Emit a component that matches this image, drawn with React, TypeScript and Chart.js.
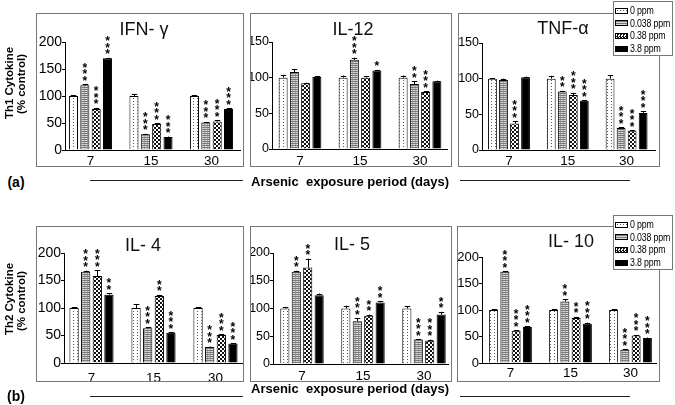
import React, { useEffect, useRef } from 'react';
import { Chart, registerables } from 'chart.js';
Chart.register(...registerables);

// ---------- data ----------
const days = ['7', '15', '30'];
const doses = ['0 ppm', '0.038 ppm', '0.38 ppm', '3.8 ppm'];
const th1Title = ['Th1 Cytokine', '(% control)'];
const th2Title = ['Th2 Cytokine', '(% control)'];
const xTitle = 'Arsenic  exposure period (days)';

// rows = doses, columns = days
const ifnMean = [[100, 100, 100], [120, 29, 51], [76, 48, 53], [170, 24, 76]];
const ifnErr = [[2, 4, 2], [2, 1, 1], [2, 2, 2], [1, 1, 1]];
const ifnStars = [[0, 0, 0], [3, 3, 3], [3, 3, 3], [3, 3, 3]];

const il12Mean = [[100, 100, 100], [108, 125, 91], [92, 100, 80], [101, 110, 95]];
const il12Err = [[4, 3, 3], [4, 3, 4], [1, 2, 1], [1, 1, 1]];
const il12Stars = [[0, 0, 0], [0, 3, 2], [0, 0, 3], [0, 1, 0]];

const tnfMean = [[100, 100, 100], [98, 82, 31], [37, 77, 27], [102, 69, 52]];
const tnfErr = [[1, 4, 5], [2, 1, 1], [3, 3, 1], [1, 1, 2]];
const tnfStars = [[0, 0, 0], [0, 2, 3], [3, 3, 3], [0, 3, 3]];

const il4Mean = [[100, 100, 100], [166, 63, 29], [158, 122, 51], [124, 55, 35]];
const il4Err = [[1, 7, 1], [2, 2, 1], [11, 2, 1], [3, 1, 1]];
const il4Stars = [[0, 0, 0], [3, 3, 3], [3, 2, 3], [2, 3, 3]];

const il5Mean = [[100, 100, 100], [166, 77, 44], [174, 87, 42], [124, 111, 89]];
const il5Err = [[2, 5, 4], [2, 5, 1], [16, 2, 2], [3, 2, 5]];
const il5Stars = [[0, 0, 0], [2, 3, 3], [2, 2, 3], [0, 2, 2]];

const il10Mean = [[100, 100, 100], [172, 116, 25], [61, 85, 52], [68, 74, 47]];
const il10Err = [[1, 1, 1], [1, 4, 1], [1, 2, 1], [1, 2, 1]];
const il10Stars = [[0, 0, 0], [3, 2, 3], [3, 2, 3], [3, 3, 3]];

// ---------- styles / layout ----------
const FONT = "'Liberation Sans', Arial, sans-serif";

function makeTile(w: number, h: number, draw: (c: CanvasRenderingContext2D) => void) {
  const cv = document.createElement('canvas');
  cv.width = w; cv.height = h;
  const c = cv.getContext('2d')!;
  draw(c);
  return c.createPattern(cv, 'repeat');
}

function makeFills() {
  const dots = makeTile(4, 3, (c) => {
    c.fillStyle = '#fff'; c.fillRect(0, 0, 4, 3);
    c.fillStyle = '#555'; c.fillRect(1, 1, 1, 1);
  });
  const stripes = makeTile(3, 2, (c) => {
    c.fillStyle = '#d8d8d8'; c.fillRect(0, 0, 3, 2);
    c.fillStyle = '#7a7a7a'; c.fillRect(0, 0, 3, 1);
    c.fillStyle = '#aaa'; c.fillRect(0, 1, 1, 1);
  });
  const checker = makeTile(4, 4, (c) => {
    c.fillStyle = '#fff'; c.fillRect(0, 0, 4, 4);
    c.fillStyle = '#111'; c.fillRect(0, 0, 2, 2); c.fillRect(2, 2, 2, 2);
  });
  return [dots, stripes, checker, '#000'];
}

const errStarPlugin = {
  id: 'errStars',
  afterDatasetsDraw(chart: any) {
    const ctx = chart.ctx;
    const ys = chart.scales.y;
    ctx.save();
    ctx.font = `bold 12px ${FONT}`;
    const m = ctx.measureText('*');
    const off = (m.actualBoundingBoxAscent - m.actualBoundingBoxDescent) / 2;
    chart.data.datasets.forEach((ds: any, i: number) => {
      const meta = chart.getDatasetMeta(i);
      meta.data.forEach((bar: any, j: number) => {
        const v = ds.data[j].y;
        const e = ds.errs[j] || 0;
        const top = ys.getPixelForValue(v + e);
        const yb = bar.y;
        ctx.strokeStyle = '#000';
        ctx.lineWidth = 1;
        if (e > 0) {
          const x = Math.round(bar.x) + 0.5;
          ctx.beginPath();
          ctx.moveTo(x, yb);
          ctx.lineTo(x, top);
          const hw = bar.width * 0.3;
          ctx.moveTo(x - hw, Math.round(top) + 0.5);
          ctx.lineTo(x + hw, Math.round(top) + 0.5);
          ctx.stroke();
        }
        const n = ds.stars[j] || 0;
        ctx.fillStyle = '#000';
        ctx.textAlign = 'center';
        ctx.textBaseline = 'alphabetic';
        for (let k = 0; k < n; k++) {
          const yc = top - 6 - k * 6.5;
          ctx.fillText('*', bar.x, yc + off);
        }
      });
    });
    ctx.restore();
  },
};

type Lay = { bx: number; by: number; bw: number; bh: number; L: number; T: number; B: number; R: number; c0: number; s: number; pad: number; tx: number; ty: number; yf: number };

function Panel(props: { title: string; mean: number[][]; err: number[][]; stars: number[][]; yMax: number; lay: Lay }) {
  const ref = useRef<HTMLCanvasElement>(null);
  const { title, mean, err, stars, yMax, lay } = props;
  useEffect(() => {
    const fills = makeFills();
    const xmin = (lay.L - lay.c0) / lay.s;
    const xmax = (lay.R - lay.c0) / lay.s;
    const chart = new Chart(ref.current!, {
      type: 'bar',
      data: {
        datasets: mean.map((row, i) => ({
          label: doses[i],
          data: row.map((v, j) => ({ x: j, y: v })),
          backgroundColor: fills[i] as any,
          borderColor: '#000',
          borderWidth: 1,
          categoryPercentage: 0.75,
          barPercentage: 0.8,
          errs: err[i],
          stars: stars[i],
        })) as any,
      },
      options: {
        responsive: false,
        animation: false,
        events: [],
        layout: { padding: { left: 0, top: lay.T - lay.by, right: lay.bx + lay.bw - lay.R, bottom: 0 } },
        plugins: { legend: { display: false }, tooltip: { enabled: false } },
        scales: {
          x: {
            type: 'linear',
            offset: false,
            bounds: 'data',
            min: xmin,
            max: xmax,
            grid: { display: false, drawTicks: false, offset: false },
            border: { display: true, color: '#000', width: 1 },
            ticks: {
              padding: lay.pad,
              color: '#000',
              font: { family: FONT, size: 13.5 },
              callback: (v: any) => days[v] ?? '',
            },
            afterBuildTicks: (sc: any) => { sc.ticks = [0, 1, 2].map((v) => ({ value: v })); },
            afterFit: (sc: any) => { sc.height = lay.by + lay.bh - lay.B; },
          },
          y: {
            min: 0,
            max: yMax,
            ticks: { stepSize: 50, padding: 0, color: '#000', font: { family: FONT, size: lay.yf } },
            grid: { drawOnChartArea: false, drawTicks: true, tickLength: 3, color: '#000' },
            border: { display: true, color: '#000', width: 1 },
            afterFit: (sc: any) => { sc.width = lay.L - lay.bx; },
          },
        },
      } as any,
      plugins: [errStarPlugin],
    });
    return () => chart.destroy();
  }, []);
  return (
    <>
      <canvas ref={ref} width={lay.bw} height={lay.bh}
        style={{ position: 'absolute', left: lay.bx, top: lay.by, width: lay.bw, height: lay.bh, display: 'block' }} />
      <div style={{ position: 'absolute', left: lay.bx, top: lay.by, width: lay.bw, height: lay.bh, border: '1px solid #777', boxSizing: 'border-box', pointerEvents: 'none' }} />
      <div style={{ position: 'absolute', left: lay.tx, top: lay.ty, transform: 'translate(-50%,-50%)', fontSize: 18, lineHeight: 1, whiteSpace: 'nowrap', color: '#111' }}>{title}</div>
    </>
  );
}

function Legend(props: { x: number; y: number }) {
  const sw = [
    { background: 'radial-gradient(circle, #555 0.7px, transparent 0.9px) 0 0/3px 3px, #fff' },
    { background: 'repeating-linear-gradient(to bottom, #7a7a7a 0 1px, #d8d8d8 1px 2px)' },
    { background: 'repeating-conic-gradient(#111 0 25%, #fff 0 50%) 0 0/3px 3px' },
    { background: '#000' },
  ];
  return (
    <div style={{ position: 'absolute', left: props.x, top: props.y, width: 60, height: 55, border: '1px solid #777', boxSizing: 'border-box', background: '#fff' }}>
      {doses.map((d, i) => (
        <div key={d} style={{ position: 'absolute', left: 1, top: 3 + i * 12.7, height: 11, display: 'flex', alignItems: 'center', whiteSpace: 'nowrap' }}>
          <div style={{ width: 13, height: 6, border: '1px solid #000', boxSizing: 'border-box', ...sw[i] }} />
          <span style={{ display: 'inline-block', fontSize: 11, marginLeft: 2, letterSpacing: -0.2, lineHeight: 1, transform: 'scaleX(0.8)', transformOrigin: 'left center' }}>{d}</span>
        </div>
      ))}
    </div>
  );
}

function VText(props: { x: number; y: number; text: string; size: number }) {
  return (
    <div style={{ position: 'absolute', left: props.x, top: props.y, transform: 'translate(-50%,-50%) rotate(-90deg)', whiteSpace: 'nowrap', fontWeight: 'bold', fontSize: props.size, lineHeight: 1 }}>{props.text}</div>
  );
}

function HText(props: { x: number; y: number; text: string; size: number; bold?: boolean }) {
  return (
    <div style={{ position: 'absolute', left: props.x, top: props.y, transform: 'translate(-50%,-50%)', whiteSpace: 'pre', fontWeight: props.bold ? 'bold' : 'normal', fontSize: props.size, lineHeight: 1 }}>{props.text}</div>
  );
}

function HLine(props: { x1: number; x2: number; y: number }) {
  return <div style={{ position: 'absolute', left: props.x1, top: props.y, width: props.x2 - props.x1, height: 1, background: '#222' }} />;
}

const layIfn: Lay = { bx: 36, by: 13, bw: 208, bh: 154, L: 65, T: 42, B: 150, R: 240, c0: 90.5, s: 60.5, pad: 3, tx: 144, ty: 29, yf: 14 };
const layIl12: Lay = { bx: 250, by: 13, bw: 202, bh: 154, L: 272, T: 42, B: 149, R: 447, c0: 300, s: 60, pad: 4, tx: 353, ty: 29, yf: 12.5 };
const layTnf: Lay = { bx: 458, by: 13, bw: 202, bh: 154, L: 482, T: 43, B: 150, R: 655, c0: 509, s: 58.8, pad: 3, tx: 563, ty: 28, yf: 12.5 };
const layIl4: Lay = { bx: 36, by: 226, bw: 208, bh: 156, L: 64, T: 253, B: 363, R: 242, c0: 91.5, s: 62, pad: 7, tx: 143, ty: 245, yf: 14 };
const layIl5: Lay = { bx: 250, by: 226, bw: 202, bh: 156, L: 273, T: 253, B: 364, R: 448, c0: 302, s: 61, pad: 4, tx: 352, ty: 244, yf: 12.5 };
const layIl10: Lay = { bx: 457, by: 226, bw: 203, bh: 156, L: 482, T: 257, B: 363, R: 656, c0: 510.5, s: 60, pad: 2, tx: 571, ty: 241, yf: 13 };

export default function App() {
  useEffect(() => { document.body.style.margin = '0'; }, []);
  return (
    <div style={{ position: 'absolute', left: 0, top: 0, width: 675, height: 405, background: '#fff', fontFamily: FONT, color: '#000', overflow: 'hidden' }}>
      <Panel title="IFN- γ" mean={ifnMean} err={ifnErr} stars={ifnStars} yMax={200} lay={layIfn} />
      <Panel title="IL-12" mean={il12Mean} err={il12Err} stars={il12Stars} yMax={150} lay={layIl12} />
      <Panel title="TNF-α" mean={tnfMean} err={tnfErr} stars={tnfStars} yMax={150} lay={layTnf} />
      <Panel title="IL- 4" mean={il4Mean} err={il4Err} stars={il4Stars} yMax={200} lay={layIl4} />
      <Panel title="IL- 5" mean={il5Mean} err={il5Err} stars={il5Stars} yMax={200} lay={layIl5} />
      <Panel title="IL- 10" mean={il10Mean} err={il10Err} stars={il10Stars} yMax={200} lay={layIl10} />
      <Legend x={613} y={1} />
      <Legend x={613} y={215} />
      <VText x={10} y={83} text={th1Title[0]} size={11.5} />
      <VText x={22} y={84} text={th1Title[1]} size={11.5} />
      <VText x={10} y={299} text={th2Title[0]} size={11.5} />
      <VText x={22} y={301} text={th2Title[1]} size={11.5} />
      <HText x={16} y={182} text="(a)" size={14} bold />
      <HText x={16} y={396} text="(b)" size={14} bold />
      <HLine x1={90} x2={243} y={180} />
      <HLine x1={460} x2={630} y={180} />
      <HText x={350} y={181} text={xTitle} size={13} bold />
      <HLine x1={90} x2={243} y={396} />
      <HLine x1={460} x2={630} y={396} />
      <HText x={350} y={388} text={xTitle} size={13} bold />
    </div>
  );
}
